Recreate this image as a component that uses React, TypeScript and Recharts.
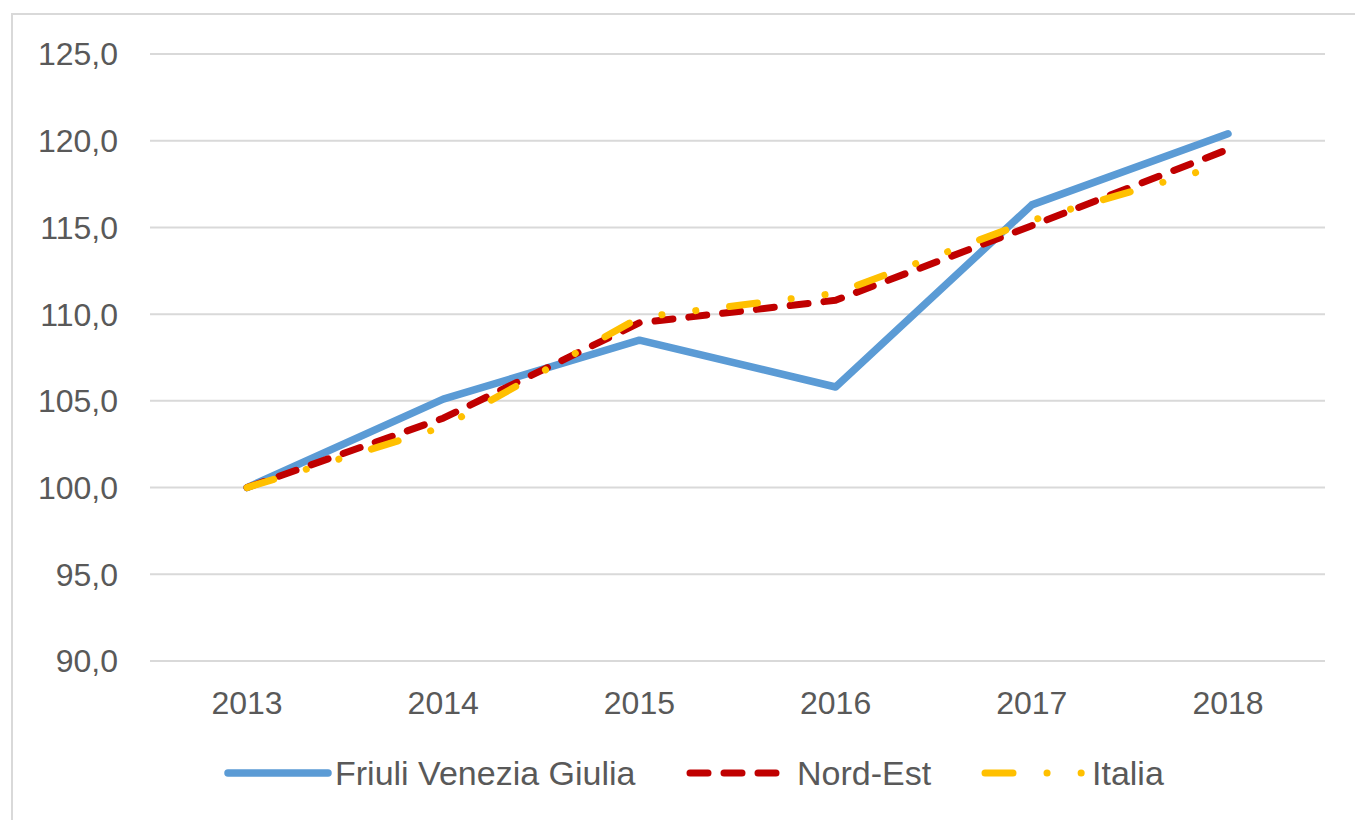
import { LineChart, Line, XAxis, YAxis, CartesianGrid } from "recharts";

const years = ["2013", "2014", "2015", "2016", "2017", "2018"];
const fvgValues = [100, 105.1, 108.5, 105.8, 116.3, 120.4];
const nordEstValues = [100, 104.0, 109.5, 110.8, 115.1, 119.5];
const italiaValues = [100, 103.5, 109.8, 111.2, 115.4, 118.7];
const yTicks = [90, 95, 100, 105, 110, 115, 120, 125];

const data = years.map((year, i) => ({
  year,
  fvg: fvgValues[i],
  nordEst: nordEstValues[i],
  italia: italiaValues[i],
}));

const FONT = "'Liberation Sans', Arial, sans-serif";
const TEXT = "#595959";

const series = [
  { key: "fvg", name: "Friuli Venezia Giulia", color: "#5B9BD5", width: 7.5, dash: undefined, left: 228 },
  { key: "nordEst", name: "Nord-Est", color: "#C00000", width: 7, dash: "18 16", left: 690 },
  { key: "italia", name: "Italia", color: "#FFC000", width: 7, dash: "28 34 0.1 34 0.1 34", left: 985 },
];

const fmt = (v: number) => v.toFixed(1).replace(".", ",");

// legend drawn as html under the plot
const LegendRow = () => (
  <>
    {series.map((s) => (
      <div
        key={s.key}
        style={{
          position: "absolute",
          left: s.left - 4,
          top: 753,
          display: "flex",
          alignItems: "center",
          fontFamily: FONT,
          fontSize: 34,
          color: TEXT,
          whiteSpace: "nowrap",
        }}
      >
        <svg width={108} height={40}>
          <line
            x1={4}
            y1={20}
            x2={104}
            y2={20}
            stroke={s.color}
            strokeWidth={s.width}
            strokeLinecap="round"
            strokeDasharray={s.dash}
          />
        </svg>
        <span style={{ marginLeft: 3 }}>{s.name}</span>
      </div>
    ))}
  </>
);

export default function App() {
  return (
    <div
      style={{
        position: "fixed",
        left: 0,
        top: 0,
        width: 1355,
        height: 820,
        overflow: "hidden",
        background: "#fff",
      }}
    >
      <div
        style={{
          position: "absolute",
          left: 11,
          top: 13,
          width: 1400,
          height: 900,
          border: "2px solid #d9d9d9",
        }}
      />
      <div style={{ position: "absolute", left: 0, top: 0 }}>
        <LineChart
          width={1355}
          height={820}
          data={data}
          margin={{ top: 54, right: 30, bottom: 99, left: 0 }}
        >
          <CartesianGrid vertical={false} stroke="#d9d9d9" strokeWidth={2} />
          <XAxis
            dataKey="year"
            height={60}
            padding={{ left: 97, right: 97 }}
            axisLine={{ stroke: "#d9d9d9", strokeWidth: 2 }}
            tickLine={false}
            tickSize={0}
            tickMargin={30}
            tick={{ fill: TEXT, fontSize: 32, fontFamily: FONT }}
          />
          <YAxis
            width={150}
            domain={[90, 125]}
            ticks={yTicks}
            axisLine={false}
            tickLine={false}
            tickSize={0}
            tickMargin={32}
            tickFormatter={fmt}
            tick={{ fill: TEXT, fontSize: 32, fontFamily: FONT }}
          />
          {series.map((s) => (
            <Line
              key={s.key}
              type="linear"
              dataKey={s.key}
              name={s.name}
              stroke={s.color}
              strokeWidth={s.width}
              strokeDasharray={s.dash}
              strokeLinecap="round"
              strokeLinejoin="round"
              dot={false}
              activeDot={false}
              isAnimationActive={false}
            />
          ))}
        </LineChart>
      </div>
      <LegendRow />
    </div>
  );
}
